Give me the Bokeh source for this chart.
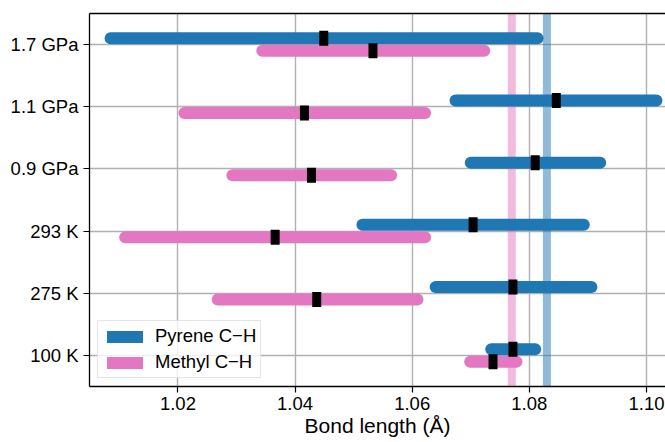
from bokeh.plotting import figure
from bokeh.models import (Range1d, FixedTicker, LinearAxis, Span, Legend, LegendItem,
                          ColumnDataSource)
from bokeh.embed import file_html
from bokeh.resources import INLINE

# ---- data ----
labels = ["100 K", "275 K", "293 K", "0.9 GPa", "1.1 GPa", "1.7 GPa"]
pyrene_low = [1.0735, 1.0640, 1.0515, 1.0700, 1.0674, 1.0085]
pyrene_high = [1.0810, 1.0906, 1.0893, 1.0921, 1.1017, 1.0814]
pyrene_mean = [1.0772, 1.0772, 1.0704, 1.0810, 1.0846, 1.0449]
methyl_low = [1.0699, 1.0268, 1.0110, 1.0293, 1.0211, 1.0344]
methyl_high = [1.0778, 1.0609, 1.0622, 1.0564, 1.0622, 1.0723]
methyl_mean = [1.0738, 1.0437, 1.0366, 1.0428, 1.0416, 1.0533]
pyrene_ref = 1.0830
methyl_ref = 1.0770
x_ticks = [1.02, 1.04, 1.06, 1.08, 1.10]

BLUE = "#1f77b4"
PINK = "#e377c2"
FONT = "Liberation Sans"

pos = list(range(len(labels)))
off = 0.1
py_y = [i + off for i in pos]
me_y = [i - off for i in pos]

p = figure(width=665, height=442, output_backend="svg", toolbar_location=None,
           x_range=Range1d(1.0049, 1.10325), y_range=Range1d(-0.5, 5.5),
           min_border_left=89, min_border_right=0, min_border_top=13, min_border_bottom=56)
p.outline_line_color = None
p.background_fill_color = "white"
p.border_fill_color = "white"

# reference bands
for val, col in [(methyl_ref, PINK), (pyrene_ref, BLUE)]:
    p.add_layout(Span(location=val, dimension="height", line_color=col,
                      line_alpha=0.5, line_width=8, level="underlay"))

src_py = ColumnDataSource(dict(lo=pyrene_low, hi=pyrene_high, m=pyrene_mean, y=py_y))
src_me = ColumnDataSource(dict(lo=methyl_low, hi=methyl_high, m=methyl_mean, y=me_y))

p.segment(x0="lo", x1="hi", y0="y", y1="y", source=src_py, line_color=BLUE,
          line_width=12, line_cap="round")
p.segment(x0="lo", x1="hi", y0="y", y1="y", source=src_me, line_color=PINK,
          line_width=12, line_cap="round")
p.rect(x="m", y="y", width=9, height=15, width_units="screen", height_units="screen",
       source=src_py, fill_color="black", line_color=None)
p.rect(x="m", y="y", width=9, height=15, width_units="screen", height_units="screen",
       source=src_me, fill_color="black", line_color=None)

# legend proxies (hidden renderers, only used for the legend swatches)
q1 = p.rect(x="m", y="y", width=1, height=1, width_units="screen", height_units="screen",
            source=src_py, fill_color=BLUE, line_color=None, visible=False)
q2 = p.rect(x="m", y="y", width=1, height=1, width_units="screen", height_units="screen",
            source=src_me, fill_color=PINK, line_color=None, visible=False)
legend = Legend(items=[LegendItem(label="Pyrene C\u2212H", renderers=[q1]),
                       LegendItem(label="Methyl C\u2212H", renderers=[q2])],
                location=(8, 8), glyph_width=45, glyph_height=15, label_height=21,
                spacing=4, padding=4, label_standoff=8, margin=0,
                border_line_color="#cccccc", border_line_width=1.2,
                background_fill_alpha=0.8,
                label_text_font=FONT, label_text_font_size="18.5px", label_text_color="black")
p.add_layout(legend)

# axes
p.xaxis.ticker = FixedTicker(ticks=x_ticks)
p.xaxis.major_label_overrides = {t: f"{t:.2f}" for t in x_ticks}
p.yaxis.ticker = FixedTicker(ticks=pos)
p.yaxis.major_label_overrides = {i: l for i, l in zip(pos, labels)}
for ax in (p.xaxis, p.yaxis):
    ax.major_label_text_font = FONT
    ax.major_label_text_font_size = "18.5px"
    ax.major_label_text_color = "black"
    ax.major_tick_out = 6
    ax.major_tick_in = 0
    ax.minor_tick_line_color = None
    ax.axis_line_color = "black"
    ax.axis_line_width = 1.3
    ax.major_tick_line_color = "black"
    ax.major_tick_line_width = 1.2
    ax.major_label_standoff = 5
p.xaxis.major_label_standoff = 4
p.xaxis.axis_label = "Bond length (\u00c5)"
p.xaxis.axis_label_text_font = FONT
p.xaxis.axis_label_text_font_size = "21px"
p.xaxis.axis_label_text_font_style = "normal"
p.xaxis.axis_label_text_color = "black"
p.xaxis.axis_label_standoff = 1

top_axis = LinearAxis(ticker=FixedTicker(ticks=[]), major_tick_line_color=None,
                      minor_tick_line_color=None, major_label_text_font_size="0px",
                      axis_line_color="black", axis_line_width=1.3)
p.add_layout(top_axis, "above")

p.xgrid.ticker = FixedTicker(ticks=x_ticks)
p.ygrid.ticker = FixedTicker(ticks=pos)
for g in (p.xgrid, p.ygrid):
    g.grid_line_color = "#b0b0b0"
    g.grid_line_width = 1.4

open("out.html", "w").write(file_html(p, INLINE))
